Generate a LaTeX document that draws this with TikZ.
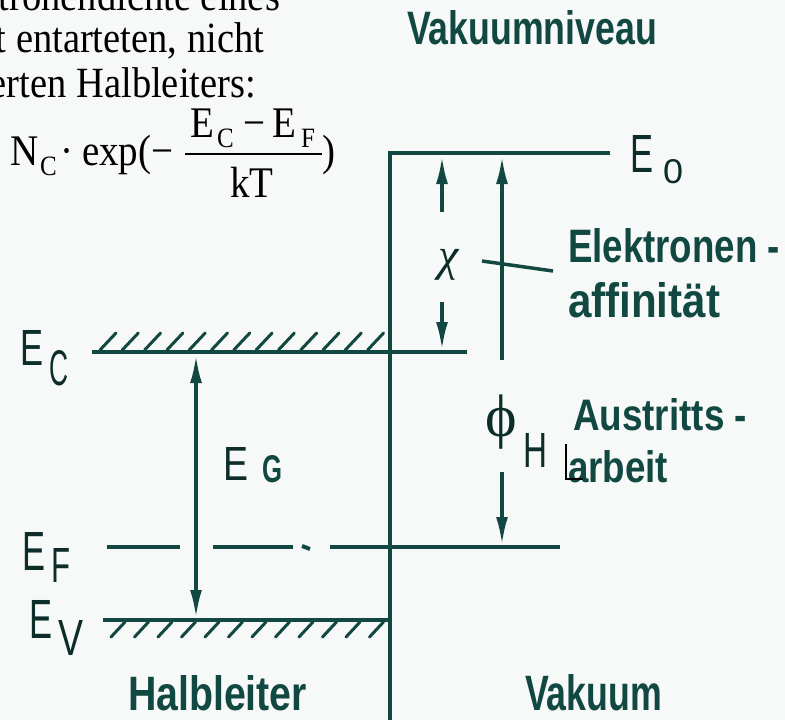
\documentclass[tikz,border=0pt]{standalone}
\usepackage{fontspec}
\setmainfont{Liberation Serif}
\newfontfamily\lab{Liberation Sans}
\usetikzlibrary{arrows.meta}
\definecolor{ink}{RGB}{18,72,66}
\definecolor{darkink}{RGB}{12,45,42}
\definecolor{paper}{RGB}{247,249,248}
\newcommand{\rb}[3]{\resizebox{#1pt}{#2pt}{#3}}
\begin{document}
\begin{tikzpicture}[x=1pt,y=-1pt,
  every node/.style={inner sep=0pt,outer sep=0pt},
  level/.style={draw=ink,line width=4.5pt},
  hatch/.style={draw=ink,line width=3pt,line cap=round},
  arr/.style={draw=ink,line width=3.5pt,-{Latex[length=28pt,width=12pt]}},
  darr/.style={draw=ink,line width=3.5pt,{Latex[length=28pt,width=12pt]}-{Latex[length=28pt,width=12pt]}},
  thin/.style={anchor=base west,text=darkink,font=\lab},
  bold/.style={anchor=base west,text=ink,font=\lab\bfseries},
  serif/.style={anchor=base west,text=black,font=\fontsize{39}{45}\selectfont},
  serifsub/.style={anchor=base west,text=black,font=\fontsize{25}{28}\selectfont}]
\fill[paper] (0,0) rectangle (785,720);
\useasboundingbox (0,0) rectangle (785,720);
\clip (0,0) rectangle (785,720);

% top-left text
\node[anchor=base east,font=\fontsize{38.5}{45}\selectfont] (t1) at (280,10) {\scalebox{1}[1.12]{ktronendichte eines}};
\node[anchor=base east,font=\fontsize{38.5}{45}\selectfont] (t2) at (264,52) {\scalebox{1}[1.12]{t entarteten, nicht}};
\node[anchor=base east,font=\fontsize{38.5}{45}\selectfont] (t3) at (256,97) {\scalebox{1}[1.12]{erten Halbleiters:}};

% formula
\node[serif] (fN) at (10,165) {\scalebox{1}[1.12]{N}};
\node[serifsub] (fNC) at (40,175) {\scalebox{1}[1.12]{C}};
\node[serif] (fdot) at (60,165) {\scalebox{1}[1.12]{·}};
\node[serif] (fexp) at (82,165) {\scalebox{1}[1.12]{exp(−}};
\node[serif] (fE1) at (190,137) {\scalebox{1}[1.12]{E}};
\node[serifsub] (fC1) at (217,147) {\scalebox{1}[1.12]{C}};
\node[serif] (fmin) at (243,137) {\scalebox{1}[1.12]{−}};
\node[serif] (fE2) at (272,137) {\scalebox{1}[1.12]{E}};
\node[serifsub] (fF2) at (301,147) {\scalebox{1}[1.12]{F}};
\coordinate (barL) at (185,154);
\coordinate (barR) at (322,154);
\draw[black,line width=2pt] (barL) -- (barR);
\node[serif] (fkT) at (230,197) {\scalebox{1}[1.12]{kT}};
\node[serif] (fpar) at (322,165) {\scalebox{1}[1.12]{)}};

% headings
\node[bold] (vn) at (407,45) {\rb{250}{34}{Vakuumniveau}};
\node[bold] (el1) at (568,262) {\rb{212}{34}{Elektronen -}};
\node[bold] (el2) at (568,317) {\rb{152}{35}{affinität}};
\node[bold] (au1) at (573,430) {\rb{174}{32}{Austritts -}};
\node[bold] (au2) at (568,482) {\rb{100}{32}{arbeit}};
\node[bold] (hl) at (128,710) {\rb{179}{35}{Halbleiter}};
\node[bold] (vk) at (525,710) {\rb{137}{36}{Vakuum}};
\draw[black,line width=2.2pt] (566,444) -- (566,479) -- (583,479);

% level labels
\node[thin] (ecE) at (20,365) {\rb{23}{35}{E}};
\node[thin] (ecC) at (49,385) {\rb{19}{35}{C}};
\node[thin] (efE) at (22,570) {\rb{23}{38}{E}};
\node[thin] (efF) at (52,582) {\rb{19}{34}{F}};
\node[thin] (evE) at (29,638) {\rb{23}{38}{E}};
\node[thin] (evV) at (58,655) {\rb{25}{35}{V}};
\node[thin] (e0E) at (630,172) {\rb{23}{37}{E}};
\node[thin] (e0n) at (663,183) {\rb{20}{24}{0}};
\node[thin] (egE) at (223,480) {\rb{25}{33}{E}};
\node[bold] (egG) at (262,482) {\rb{20}{27}{G}};
\node[thin] (hH) at (523,467) {\rb{24}{34}{H}};
\node[anchor=base,text=darkink,font=\fontsize{46}{46}\selectfont\itshape] (chi) at (449,270) {χ};
\node[anchor=base,text=darkink,font=\fontsize{60}{60}\selectfont] (phi) at (501,436) {ϕ};

% levels
\coordinate (e0R) at (610,153);
\coordinate (corner) at (390,153);
\coordinate (surfB) at (390,730);
\draw[level] (e0R) -- (corner) -- (surfB);
\coordinate (ecL) at (92,352);
\coordinate (ecR) at (467,352);
\draw[level] (ecL) -- (ecR);
\coordinate (evL) at (103,620);
\coordinate (evR) at (390,620);
\draw[level] (evL) -- (evR);
\foreach \x in {100,122.3,...,380} \draw[hatch] (\x,350) -- (\x+16,333);
\foreach \x in {125,148.5,...,390} \draw[hatch] (\x,622) -- (\x-14,637);

% Fermi level
\coordinate (f1a) at (107,547); \coordinate (f1b) at (180,547);
\coordinate (f2a) at (213,547); \coordinate (f2b) at (293,547);
\coordinate (f3a) at (302,546); \coordinate (f3b) at (310,549);
\coordinate (f4a) at (330,547); \coordinate (f4b) at (560,547);
\draw[level,line width=4pt] (f1a) -- (f1b) (f2a) -- (f2b) (f4a) -- (f4b);
\draw[level,line width=4pt] (f3a) -- (f3b);

% arrows
\coordinate (egT) at (196,355); \coordinate (egB) at (196,618);
\draw[darr] (egB) -- (egT);
\coordinate (chiA) at (442,212); \coordinate (chiT) at (442,156);
\draw[arr] (chiA) -- (chiT);
\coordinate (chiB) at (442,302); \coordinate (chiE) at (442,350);
\draw[arr] (chiB) -- (chiE);
\coordinate (phA) at (502,360); \coordinate (phT) at (502,156);
\draw[arr] (phA) -- (phT);
\coordinate (phB) at (502,472); \coordinate (phE) at (502,545);
\draw[arr] (phB) -- (phE);
\coordinate (ldA) at (482,261); \coordinate (ldB) at (553,271);
\draw[draw=ink,line width=3.5pt] (ldA) -- (ldB);
\end{tikzpicture}
\end{document}
